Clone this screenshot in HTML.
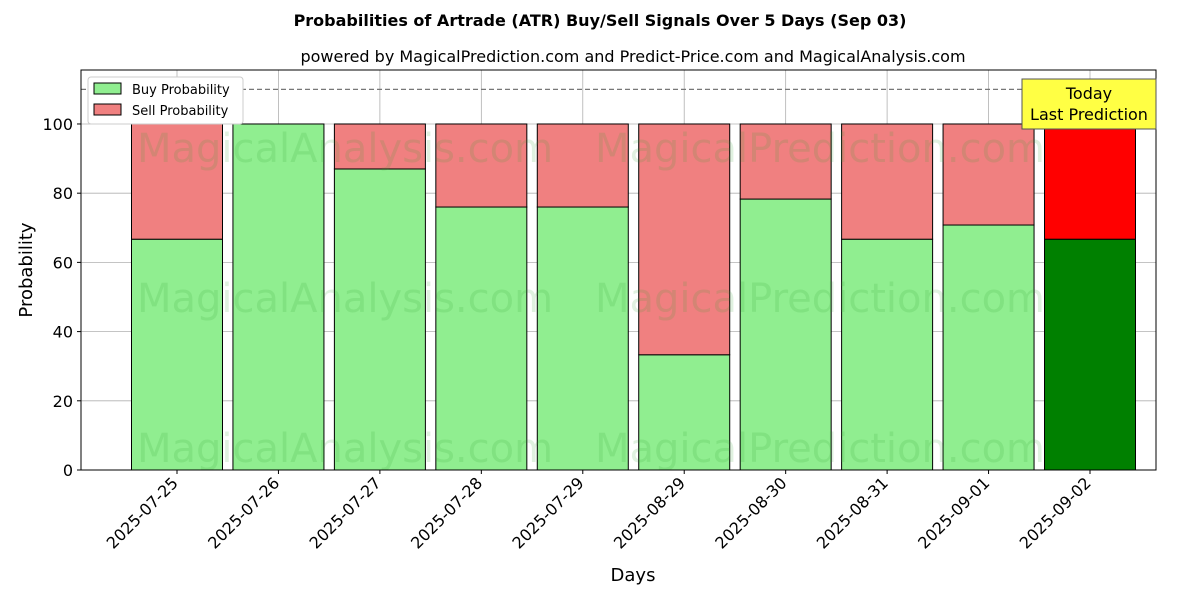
<!DOCTYPE html>
<html><head><meta charset="utf-8"><style>
body{margin:0;background:#fff;font-family:"DejaVu Sans","Liberation Sans",sans-serif;}
</style></head><body>
<svg id="chart" width="1200" height="600" xmlns="http://www.w3.org/2000/svg" font-family="DejaVu Sans, Liberation Sans, sans-serif">
<rect width="1200" height="600" fill="#fff"/>
<text x="600" y="26" text-anchor="middle" font-size="16" font-weight="bold">Probabilities of Artrade (ATR) Buy/Sell Signals Over 5 Days (Sep 03)</text>
<text x="633" y="62" text-anchor="middle" font-size="16">powered by MagicalPrediction.com and Predict-Price.com and MagicalAnalysis.com</text>
<g id="grid"></g>
<g id="bars"></g>
<g id="wm" font-size="40" fill="#2ca02c" fill-opacity="0.15">
<text x="345" y="162" text-anchor="middle">MagicalAnalysis.com</text>
<text x="820" y="162" text-anchor="middle">MagicalPrediction.com</text>
<text x="345" y="312" text-anchor="middle">MagicalAnalysis.com</text>
<text x="820" y="312" text-anchor="middle">MagicalPrediction.com</text>
<text x="345" y="462" text-anchor="middle">MagicalAnalysis.com</text>
<text x="820" y="462" text-anchor="middle">MagicalPrediction.com</text>
</g>
<line x1="81" x2="1156" y1="89.4" y2="89.4" stroke="#777" stroke-dasharray="5,3" stroke-width="1.2"/>
<rect x="81" y="70" width="1075" height="400" fill="none" stroke="#000" stroke-width="1"/>
<g id="ticks" font-size="16"></g>
<text x="633" y="581" text-anchor="middle" font-size="18">Days</text>
<text x="32" y="270" text-anchor="middle" font-size="18" transform="rotate(-90 32 270)">Probability</text>
<g>
<rect x="88" y="77" width="155" height="47" fill="#fff" stroke="#ccc" rx="3"/>
<rect x="94" y="83" width="27" height="11" fill="#90ee90" stroke="#000"/>
<text x="132" y="94" font-size="13">Buy Probability</text>
<rect x="94" y="104" width="27" height="11" fill="#f08080" stroke="#000"/>
<text x="132" y="115" font-size="13">Sell Probability</text>
</g>
<g>
<rect x="1022" y="79" width="134" height="50" fill="#ffff44" stroke="#555"/>
<text x="1089" y="99" text-anchor="middle" font-size="16">Today</text>
<text x="1089" y="120" text-anchor="middle" font-size="16">Last Prediction</text>
</g>
</svg>
<script>
const categories=["2025-07-25","2025-07-26","2025-07-27","2025-07-28","2025-07-29","2025-08-29","2025-08-30","2025-08-31","2025-09-01","2025-09-02"];
const buyValues=[66.7,100,87,76,76,33.3,78.3,66.7,70.8,66.7];
const sellValues=[33.3,0,13,24,24,66.7,21.7,33.3,29.2,33.3];
const yTicks=[0,20,40,60,80,100];
const NS="http://www.w3.org/2000/svg";
const X0=81,X1=1156,Y0=470,Y1=70,YMAX=115.6;
const xs=i=>177+i*(1090-177)/9;
const ys=v=>Y0-(v/YMAX)*(Y0-Y1);
const bw=91;
function mk(t,a,p){const e=document.createElementNS(NS,t);for(const k in a)e.setAttribute(k,a[k]);p.appendChild(e);return e;}
const grid=document.getElementById('grid'),bars=document.getElementById('bars'),ticks=document.getElementById('ticks');
yTicks.forEach(v=>{
 const g=mk('line',{x1:X0,x2:X1,y1:ys(v),y2:ys(v),stroke:'#b0b0b0','stroke-width':0.8},grid);
 
 
 const tk=mk('line',{x1:X0-4,x2:X0,y1:ys(v),y2:ys(v),stroke:'#000'},ticks);
 
 
 const t=mk('text',{x:X0-8,y:ys(v)+6,'text-anchor':'end'},ticks);t.textContent=v;
 
 
});
categories.forEach((c,i)=>{
 const x=xs(i);
 const g=mk('line',{x1:x,x2:x,y1:Y1,y2:Y0,stroke:'#b0b0b0','stroke-width':0.8},grid);
 
 
 const last=i===categories.length-1;
 const b=mk('rect',{x:x-bw/2,y:ys(buyValues[i]),width:bw,height:ys(0)-ys(buyValues[i]),fill:last?'#008000':'#90ee90',stroke:'#000','stroke-width':1},bars);
 
 
 const s=mk('rect',{x:x-bw/2,y:ys(buyValues[i]+sellValues[i]),width:bw,height:ys(buyValues[i])-ys(buyValues[i]+sellValues[i]),fill:last?'#ff0000':'#f08080',stroke:'#000','stroke-width':1},bars);
 
 
 const tk=mk('line',{x1:x,x2:x,y1:Y0,y2:Y0+4,stroke:'#000'},ticks);
 
 
 const ax=x+2,ay=Y0+14;
 const t=mk('text',{x:ax,y:ay,'text-anchor':'end',transform:`rotate(-45 ${ax} ${ay})`},ticks);t.textContent=c;
 
 
});
</script>
</body></html>
